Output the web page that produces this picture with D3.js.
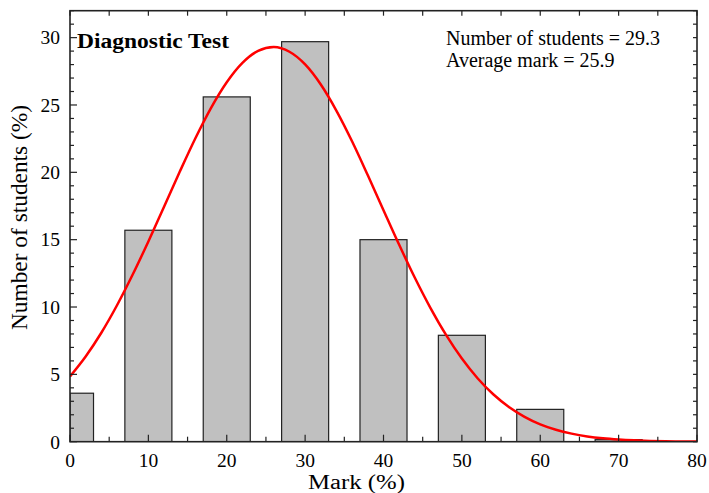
<!DOCTYPE html>
<html><head><meta charset="utf-8">
<script src="https://cdn.jsdelivr.net/npm/d3@7"></script>
<style>
html,body{margin:0;padding:0;background:#fff;}
</style></head>
<body><svg id="c" width="709" height="493"></svg>
<script>
// Histogram data
const binCenters = [0, 10, 20, 30, 40, 50, 60, 70];
const binValues  = [3.6, 15.7, 25.6, 29.7, 15.0, 7.9, 2.4, 0.15];
const binWidth = 6;
// Fitted curve
const curveX = [0,2,4,6,8,10,12,14,16,18,20,22,24,26,28,30,32,34,36,38,40,42,44,46,48,50,52,54,56,58,60,62,64,66,68,70,72,74,76,78,80];
const curveY = [4.85,6.33,8.09,10.13,12.41,14.87,17.45,20.04,22.53,24.79,26.69,28.13,29.02,29.30,28.95,28.01,26.52,24.57,22.29,19.78,17.19,14.62,12.17,9.92,7.91,6.17,4.71,3.52,2.58,1.85,1.29,0.89,0.60,0.39,0.25,0.16,0.10,0.06,0.03,0.02,0.01];
const xTicks = [0,10,20,30,40,50,60,70,80];
const yTicks = [0,5,10,15,20,25,30];
const title = "Diagnostic Test";
const infoLines = ["Number of students = 29.3", "Average mark = 25.9"];

const FONT = "'Liberation Serif', 'DejaVu Serif', serif";
const svg = d3.select("#c").attr("font-family", FONT);
const L = 70, R = 697, T = 10.7, B = 441.7;
const x = d3.scaleLinear().domain([0, 80]).range([L, R]);
const y = d3.scaleLinear().domain([0, 32]).range([B, T]);

svg.append("clipPath").attr("id","clip").append("rect")
  .attr("x",L).attr("y",T).attr("width",R-L).attr("height",B-T);

const g = svg.append("g").attr("clip-path","url(#clip)");
g.selectAll("rect.bar").data(binCenters).join("rect").attr("class","bar")
  .attr("x", d => x(Math.max(0, d - binWidth/2)))
  .attr("width", d => x(d + binWidth/2) - x(Math.max(0, d - binWidth/2)))
  .attr("y", (d,i) => y(binValues[i]))
  .attr("height", (d,i) => y(0) - y(binValues[i]))
  .attr("fill","#c0c0c0").attr("stroke","#222").attr("stroke-width",1.2);

const line = d3.line().x(d => x(d[0])).y(d => y(d[1])).curve(d3.curveMonotoneX);
g.append("path").datum(curveX.map((v,i)=>[v,curveY[i]]))
  .attr("d", line).attr("fill","none").attr("stroke","#f00").attr("stroke-width",2.5);

// Axes (ticks inward)
const minorX = d3.range(0, 81, 5);
const minorY = d3.range(0, 33, 1);
const axG = svg.append("g");
function tick(x1,y1,x2,y2){axG.append("line").attr("x1",x1).attr("y1",y1).attr("x2",x2).attr("y2",y2).attr("stroke","#222").attr("stroke-width",1.2);}
minorX.forEach(v => { const len = (v % 10 === 0) ? 7 : 5; tick(x(v), B, x(v), B - len); tick(x(v), T, x(v), T + 5); });
minorY.forEach(v => { const len = (v % 5 === 0) ? 7 : 4; tick(L, y(v), L + len, y(v)); tick(R, y(v), R - 4, y(v)); });

svg.append("rect").attr("x",L).attr("y",T).attr("width",R-L).attr("height",B-T)
  .attr("fill","none").attr("stroke","#222").attr("stroke-width",1.6);

// Tick labels
svg.append("g").selectAll("text").data(xTicks).join("text")
  .attr("x", d => x(d)).attr("y", 467).attr("text-anchor","middle")
  .attr("font-size", 19.5).text(d => d);
svg.append("g").selectAll("text").data(yTicks).join("text")
  .attr("x", 60).attr("y", d => y(d)).attr("dy","0.35em").attr("text-anchor","end")
  .attr("font-size", 19.5).text(d => d);

// Axis titles
svg.append("text").attr("x", 308).attr("y", 489)
  .attr("font-size", 20).attr("textLength", 97).attr("lengthAdjust","spacingAndGlyphs").text("Mark (%)");
svg.append("text").attr("transform","translate(26.7,330) rotate(-90)")
  .attr("font-size", 22.6).attr("textLength", 225).attr("lengthAdjust","spacingAndGlyphs").text("Number of students (%)");

// Annotations
svg.append("text").attr("x", 77).attr("y", 47.7).attr("font-size", 21.6).attr("font-weight","bold")
  .attr("textLength", 152).attr("lengthAdjust","spacingAndGlyphs").text(title);
svg.selectAll("text.info").data(infoLines).join("text").attr("class","info")
  .attr("x", 446).attr("y", (d,i) => 44.7 + i*22).attr("font-size", 20).text(d => d);
</script></body></html>
